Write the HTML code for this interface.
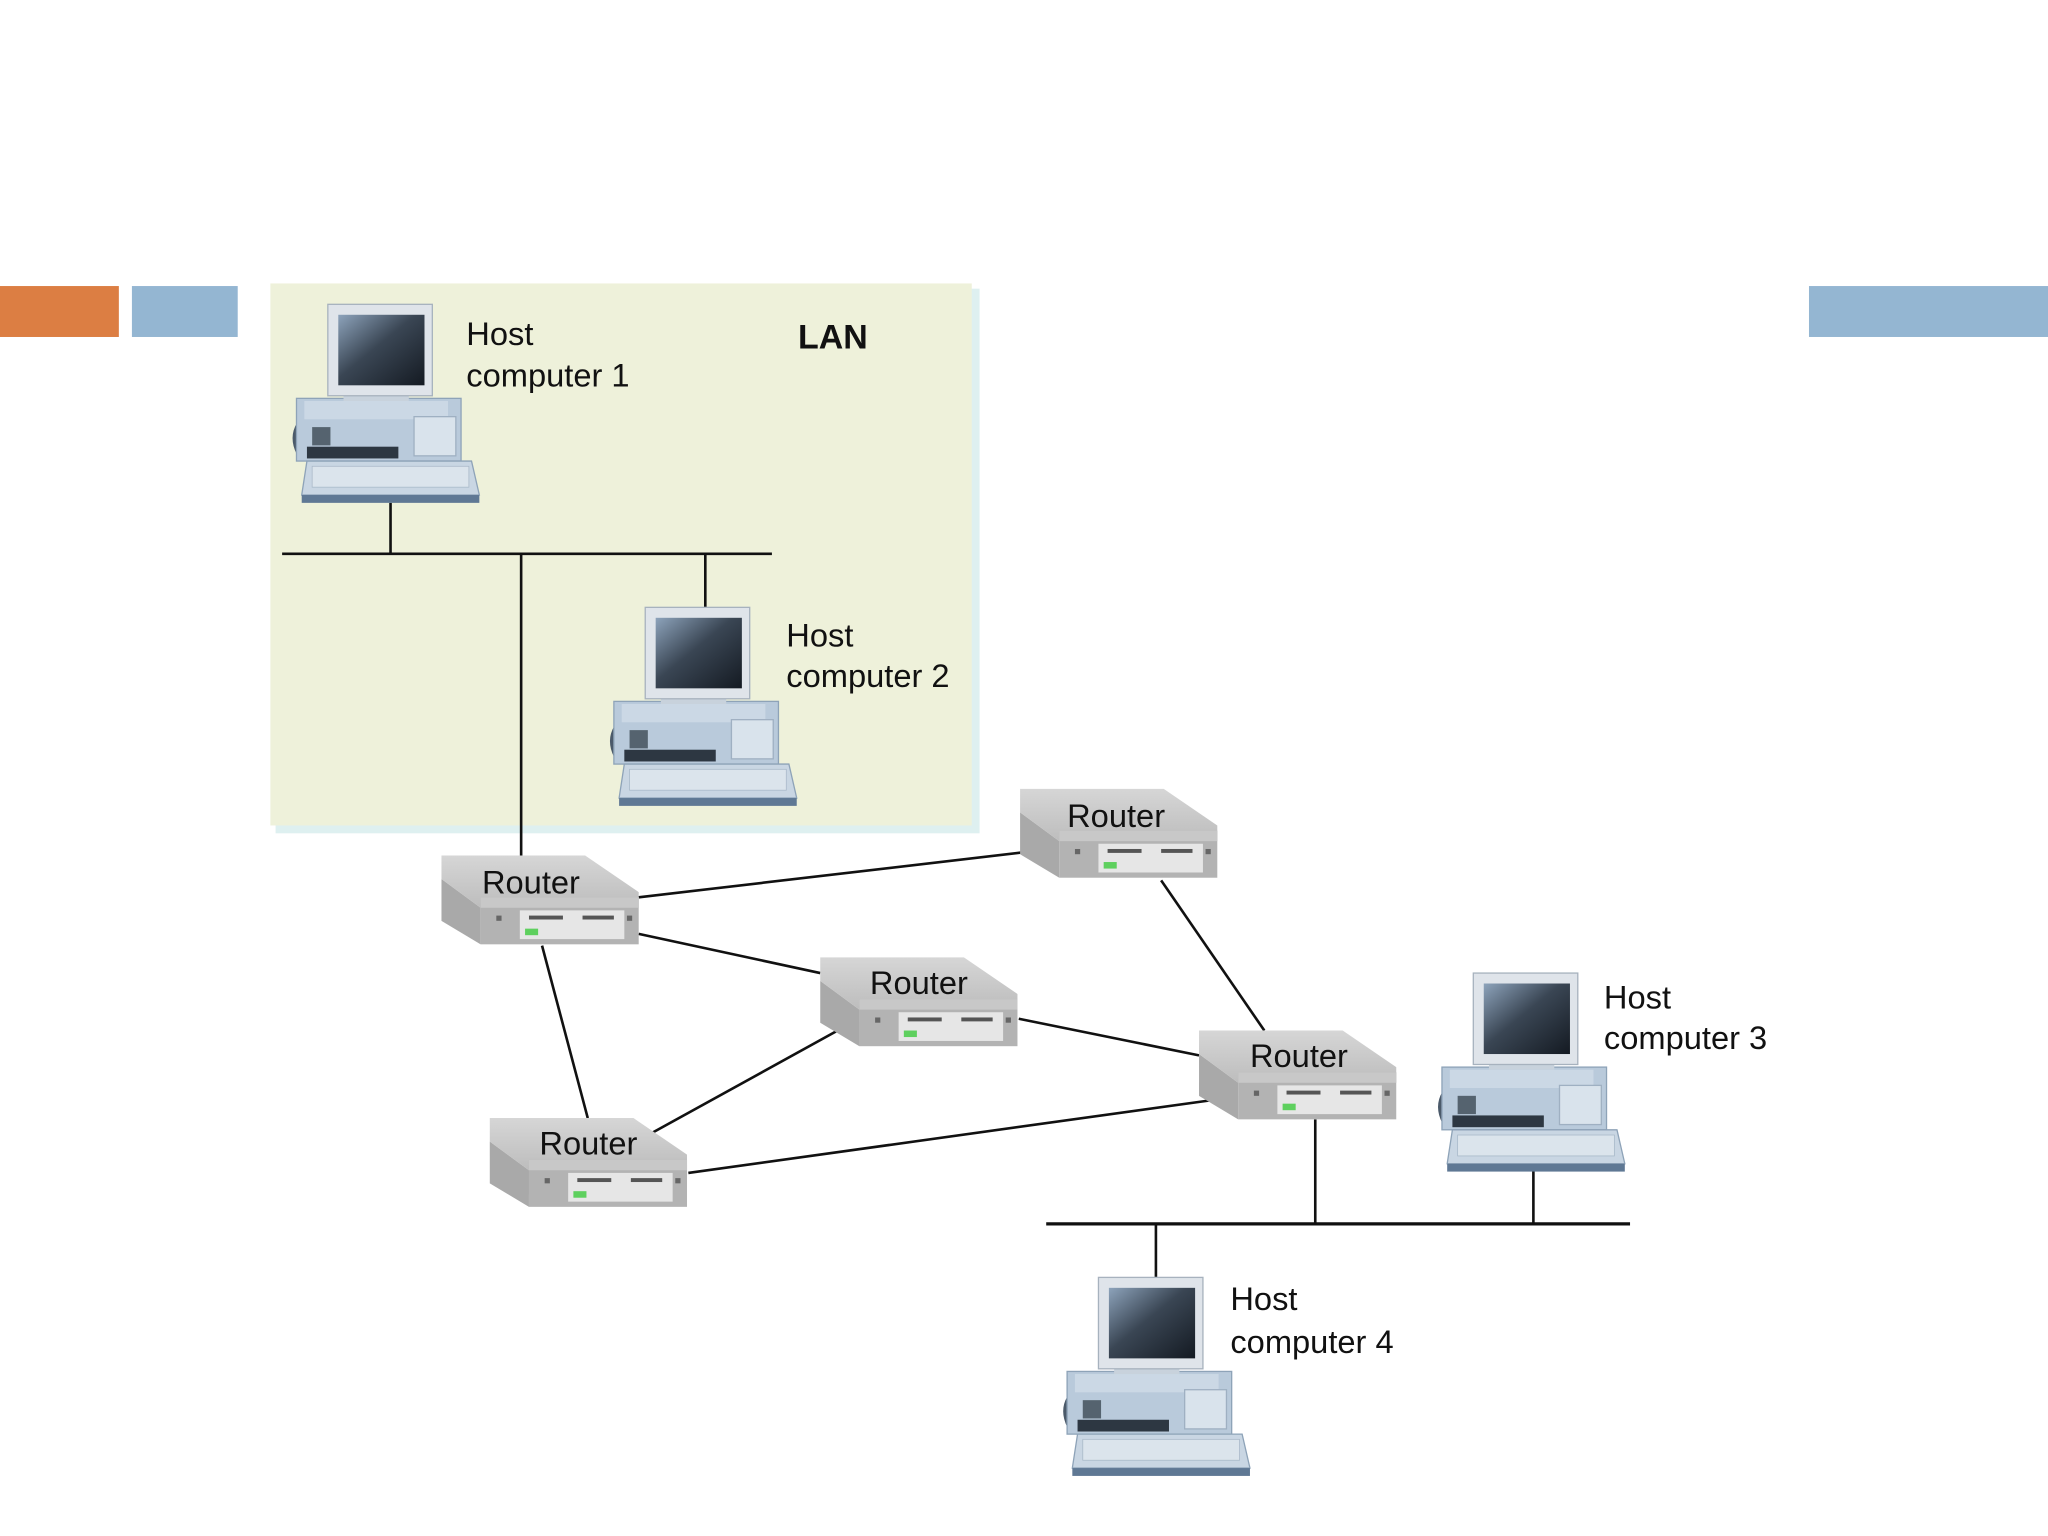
<!DOCTYPE html>
<html><head><meta charset="utf-8"><style>
html,body{margin:0;padding:0;background:#fff;}
svg{display:block;}
text{font-family:"Liberation Sans",sans-serif;fill:#111;}
</style></head><body>
<svg width="2048" height="1536" viewBox="0 0 1568 1176" xmlns="http://www.w3.org/2000/svg">
<defs>
<linearGradient id="scr" x1="0" y1="0" x2="1" y2="1"><stop offset="0" stop-color="#8da3bb"/><stop offset="0.45" stop-color="#3a4654"/><stop offset="1" stop-color="#141a22"/></linearGradient>
<linearGradient id="rt" x1="0" y1="0" x2="0" y2="1"><stop offset="0" stop-color="#d6d6d6"/><stop offset="1" stop-color="#bdbdbd"/></linearGradient>
<g id="pc">
<path d="M4,92 q-6,10 0,22" stroke="#4b5a6a" stroke-width="4" fill="none"/>
<rect x="2" y="72" width="126" height="48" fill="#b9cadb" stroke="#8ea3b8"/>
<rect x="8" y="74" width="110" height="14" fill="#cbd8e5"/>
<rect x="14" y="94" width="14" height="14" fill="#55636f"/>
<rect x="10" y="109" width="70" height="9" fill="#2d3742"/>
<rect x="92" y="86" width="32" height="30" fill="#d9e3ec" stroke="#9fb0c2"/>
<rect x="38" y="62" width="50" height="12" fill="#c8d2dc"/>
<rect x="26" y="0" width="80" height="70" fill="#dfe4ea" stroke="#a7b2be"/>
<rect x="34" y="8" width="66" height="54" fill="url(#scr)"/>
<polygon points="10,120 136,120 142,146 6,146" fill="#c9d6e3" stroke="#8ea3b8"/>
<rect x="14" y="124" width="120" height="16" fill="#dbe4ec" stroke="#a9b9c9" stroke-width="0.6"/>
<rect x="6" y="146" width="136" height="6" fill="#5f7894"/>
</g>
<g id="rtr">
<polygon points="0,18 30,40 30,68 0,50" fill="#a9a9a9"/>
<polygon points="0,0 110,0 151,28 151,40 30,40 0,18" fill="url(#rt)"/>
<rect x="30" y="32" width="121" height="36" fill="#b3b3b3"/>
<rect x="30" y="32" width="121" height="8" fill="#c8c8c8"/>
<rect x="60" y="42" width="80" height="22" fill="#e6e6e6"/>
<rect x="67" y="46" width="26" height="3" fill="#555"/>
<rect x="108" y="46" width="24" height="3" fill="#555"/>
<rect x="64" y="56" width="10" height="5" fill="#5ed05e"/>
<rect x="42" y="46" width="4" height="4" fill="#666"/>
<rect x="142" y="46" width="4" height="4" fill="#666"/>
</g>
</defs>
<rect x="0" y="219" width="91" height="39" fill="#dc7e43"/>
<rect x="101" y="219" width="81" height="39" fill="#94b6d2"/>
<rect x="1385" y="219" width="183" height="39" fill="#94b6d2"/>
<rect x="211" y="221" width="539" height="417" fill="#def0f0"/>
<rect x="207" y="217" width="537" height="415" fill="#eef1da"/>
<g stroke="#111" stroke-width="2" fill="none">
<line x1="216" y1="424" x2="591" y2="424"/>
<line x1="299" y1="385" x2="299" y2="424"/>
<line x1="399" y1="424" x2="399" y2="660"/>
<line x1="540" y1="424" x2="540" y2="467"/>
<line x1="489" y1="687" x2="788" y2="652"/>
<line x1="489" y1="715" x2="628" y2="745"/>
<line x1="415" y1="724" x2="450" y2="856"/>
<line x1="645" y1="787" x2="498" y2="868"/>
<line x1="780" y1="780" x2="918" y2="808"/>
<line x1="889" y1="674" x2="968" y2="789"/>
<line x1="527" y1="898" x2="930" y2="842"/>
<line x1="801" y1="937" x2="1248" y2="937" stroke-width="2.5"/>
<line x1="1007" y1="857" x2="1007" y2="937"/>
<line x1="885" y1="937" x2="885" y2="978"/>
<line x1="1174" y1="895" x2="1174" y2="937"/>
</g>
<use href="#pc" x="225" y="233"/>
<use href="#pc" x="468" y="465"/>
<use href="#pc" x="1102" y="745"/>
<use href="#pc" x="815" y="978"/>
<use href="#rtr" x="338" y="655"/>
<use href="#rtr" x="781" y="604"/>
<use href="#rtr" x="628" y="733"/>
<use href="#rtr" x="918" y="789"/>
<use href="#rtr" x="375" y="856"/>
<g font-size="25">
<text x="357" y="264">Host</text><text x="357" y="296">computer 1</text>
<text x="602" y="495">Host</text><text x="602" y="526">computer 2</text>
<text x="1228" y="772">Host</text><text x="1228" y="803">computer 3</text>
<text x="942" y="1003">Host</text><text x="942" y="1036">computer 4</text>
<text x="369" y="684">Router</text>
<text x="817" y="633">Router</text>
<text x="666" y="761">Router</text>
<text x="957" y="817">Router</text>
<text x="413" y="884">Router</text>
</g>
<text x="611" y="267" font-size="26" font-weight="bold">LAN</text>
</svg>
</body></html>
